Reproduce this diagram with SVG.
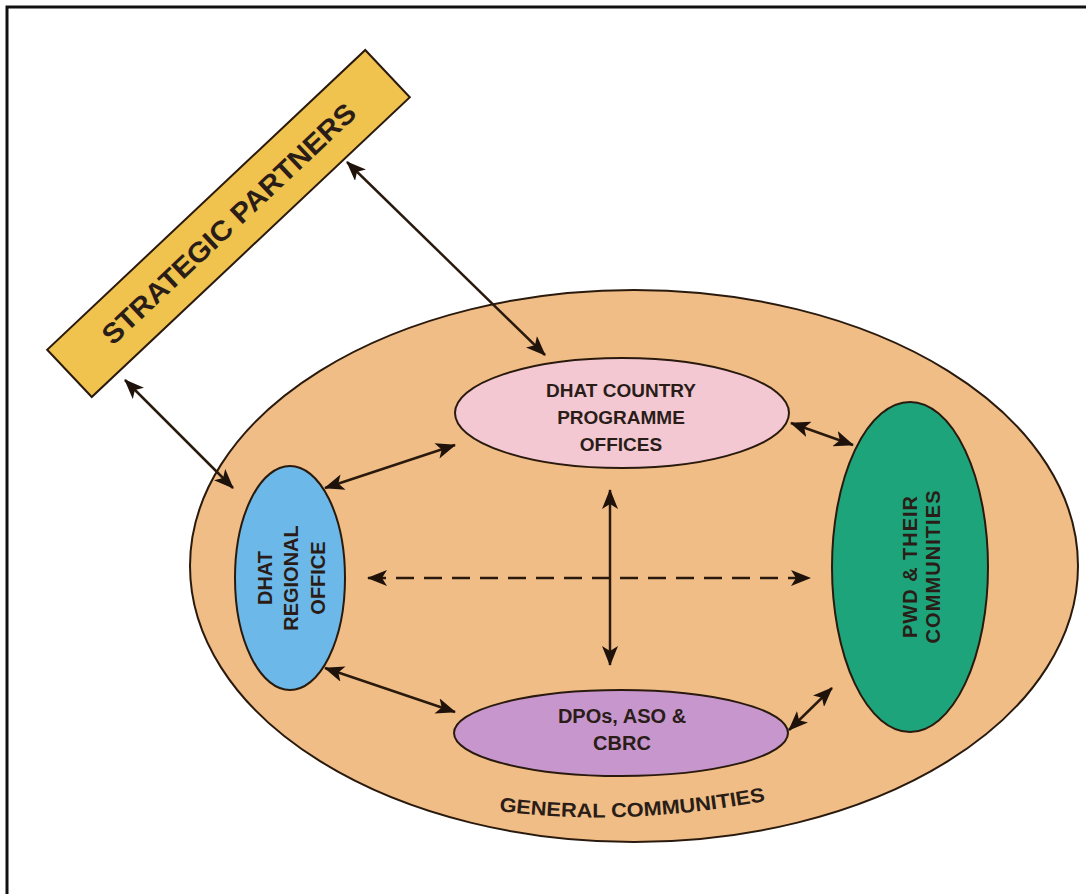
<svg xmlns="http://www.w3.org/2000/svg" width="1086" height="894" viewBox="0 0 1086 894">
<style>
.node{stroke:#2a1a0e;stroke-width:2}
.lbl{font-family:"Liberation Sans",Arial,sans-serif;font-weight:bold;fill:#2a1d18;text-anchor:middle}
.con{stroke:#2a1a0e;stroke-width:2.5;fill:none;marker-start:url(#ah);marker-end:url(#ah)}
</style>
<defs>
<marker id="ah" viewBox="0 0 20 16" refX="19" refY="8" markerWidth="20" markerHeight="16" markerUnits="userSpaceOnUse" orient="auto-start-reverse">
<path d="M0,0 L20,8 L0,16 L5,8 z" fill="#1e120a"/>
</marker>
</defs>
<rect width="1086" height="894" fill="#ffffff"/>
<path d="M7,894 V7 H1086" fill="none" stroke="#111" stroke-width="3"/>

<g id="general-communities">
<ellipse class="node" cx="634" cy="566" rx="444" ry="276" fill="#f0bd86"/>
<path id="gcpath" d="M499,811 Q625,828 770,800" fill="none"/>
<text class="lbl" font-size="20" style="text-anchor:start"><textPath href="#gcpath" textLength="268" lengthAdjust="spacingAndGlyphs">GENERAL COMMUNITIES</textPath></text>
</g>

<g id="strategic-partners">
<rect class="node" x="10" y="191" width="437" height="65" fill="#f0c24e" transform="rotate(-43.3 228.5 223.5)"/>
<text class="lbl" font-size="28" x="228.5" y="233.5" textLength="337" lengthAdjust="spacingAndGlyphs" transform="rotate(-43.3 228.5 223.5)">STRATEGIC PARTNERS</text>
</g>

<g id="country-offices">
<ellipse class="node" cx="622" cy="413" rx="167" ry="55" fill="#f3c8d3"/>
<text class="lbl" font-size="19" x="621" y="397">DHAT COUNTRY</text>
<text class="lbl" font-size="19" x="621" y="424">PROGRAMME</text>
<text class="lbl" font-size="19" x="621" y="451">OFFICES</text>
</g>

<g id="regional-office">
<ellipse class="node" cx="290" cy="578" rx="55" ry="112" fill="#6cb9e9"/>
<g transform="translate(290 578) rotate(-90)">
<text class="lbl" font-size="20" x="0" y="-18">DHAT</text>
<text class="lbl" font-size="20" x="0" y="8">REGIONAL</text>
<text class="lbl" font-size="20" x="0" y="35">OFFICE</text>
</g>
</g>

<g id="pwd">
<ellipse class="node" cx="910" cy="567" rx="78" ry="165" fill="#1da47b"/>
<g transform="translate(910 567) rotate(-90)">
<text class="lbl" font-size="20" x="0" y="7" textLength="142">PWD &amp; THEIR</text>
<text class="lbl" font-size="20" x="0" y="30" textLength="153">COMMUNITIES</text>
</g>
</g>

<g id="dpos">
<ellipse class="node" cx="621" cy="733" rx="167" ry="43" fill="#c796cd"/>
<text class="lbl" font-size="20" x="622" y="723">DPOs, ASO &amp;</text>
<text class="lbl" font-size="20" x="622" y="750">CBRC</text>
</g>

<g id="connectors">
<line class="con" x1="347" y1="162" x2="545" y2="355"/>
<line class="con" x1="125" y1="380" x2="233" y2="488"/>
<line class="con" x1="325" y1="488" x2="455" y2="445"/>
<line class="con" x1="325" y1="668" x2="455" y2="712"/>
<line class="con" x1="791" y1="423" x2="853" y2="445"/>
<line class="con" x1="789" y1="730" x2="832" y2="688"/>
<line class="con" x1="610" y1="490" x2="610" y2="665"/>
<line class="con" x1="368" y1="578" x2="810" y2="578" stroke-dasharray="18 10"/>
</g>
</svg>
